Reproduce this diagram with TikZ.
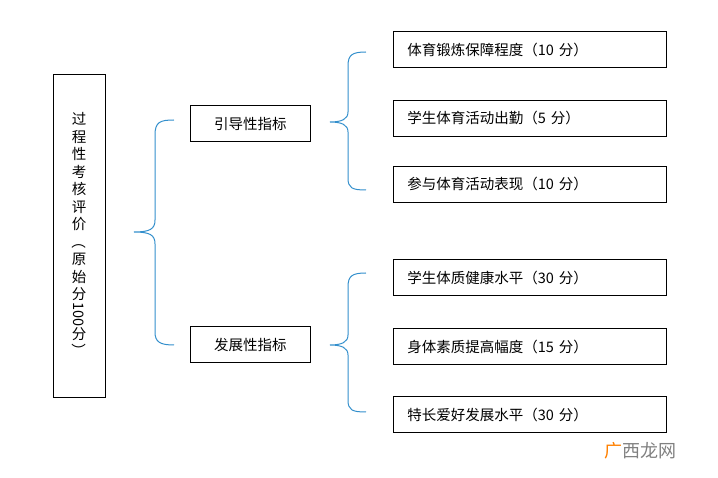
\documentclass[tikz,border=0pt]{standalone}
\usepackage{fontspec}
\newfontfamily\cjk{Noto Sans CJK SC}
\begin{document}
\begin{tikzpicture}[x=1pt,y=-1pt,
  box/.style={draw,thick,minimum height=36pt,anchor=west,font=\cjk\fontsize{14.5}{16}\selectfont,inner sep=0pt},
  rbox/.style={box,text width=245pt,inner xsep=14pt,align=left},
  brace/.style={draw=blue!40!cyan!60!gray,line width=1pt}]
\useasboundingbox (0,0) rectangle (718,478);
\node[draw,thick,minimum width=52pt,minimum height=323pt,inner sep=0pt] (L) at (79,235.5) {};
\node[font=\cjk\fontsize{14.5}{17.5}\selectfont,align=center] (Lt) at (L) {过\\程\\性\\考\\核\\评\\价\\\rotatebox[origin=c]{-90}{（}\\原\\始\\分\\\rotatebox[origin=c]{-90}{100}\\分\\\rotatebox[origin=c]{-90}{）}};
\node[box,minimum width=120pt] (A) at (190,123.5) {引导性指标};
\node[box,minimum width=120pt] (B) at (190,344.5) {发展性指标};
\node[rbox] (R1) at (393,49.5) {体育锻炼保障程度（10 分）};
\node[rbox] (R2) at (393,118) {学生体育活动出勤（5 分）};
\node[rbox] (R3) at (393,184) {参与体育活动表现（10 分）};
\node[rbox] (R4) at (393,277.5) {学生体质健康水平（30 分）};
\node[rbox] (R5) at (393,346.5) {身体素质提高幅度（15 分）};
\node[rbox] (R6) at (393,414.5) {特长爱好发展水平（30 分）};
\coordinate (b1) at (134,232);
\draw[brace] (174,120) .. controls (160,120) and (155,122) .. (155,135) -- (155,220) .. controls (155,229) and (150,232) .. (b1)
  .. controls (150,232) and (155,235) .. (155,244) -- (155,332) .. controls (155,342) and (160,345) .. (174,345);
\coordinate (b2) at (330,122);
\draw[brace] (366,52) .. controls (352,52) and (348,55) .. (348,66) -- (348,112) .. controls (348,119) and (342,122) .. (b2)
  .. controls (342,122) and (348,125) .. (348,132) -- (348,178) .. controls (348,188) and (352,190) .. (366,190);
\coordinate (b3) at (330,345);
\draw[brace] (366,273) .. controls (352,273) and (348,276) .. (348,287) -- (348,335) .. controls (348,342) and (342,345) .. (b3)
  .. controls (342,345) and (348,348) .. (348,355) -- (348,400) .. controls (348,410) and (352,412) .. (366,412);
\node[font=\cjk\fontsize{18}{20}\selectfont,text=gray] (W) at (640,451) {\textcolor{orange}{广}西龙网};
\end{tikzpicture}
\end{document}
